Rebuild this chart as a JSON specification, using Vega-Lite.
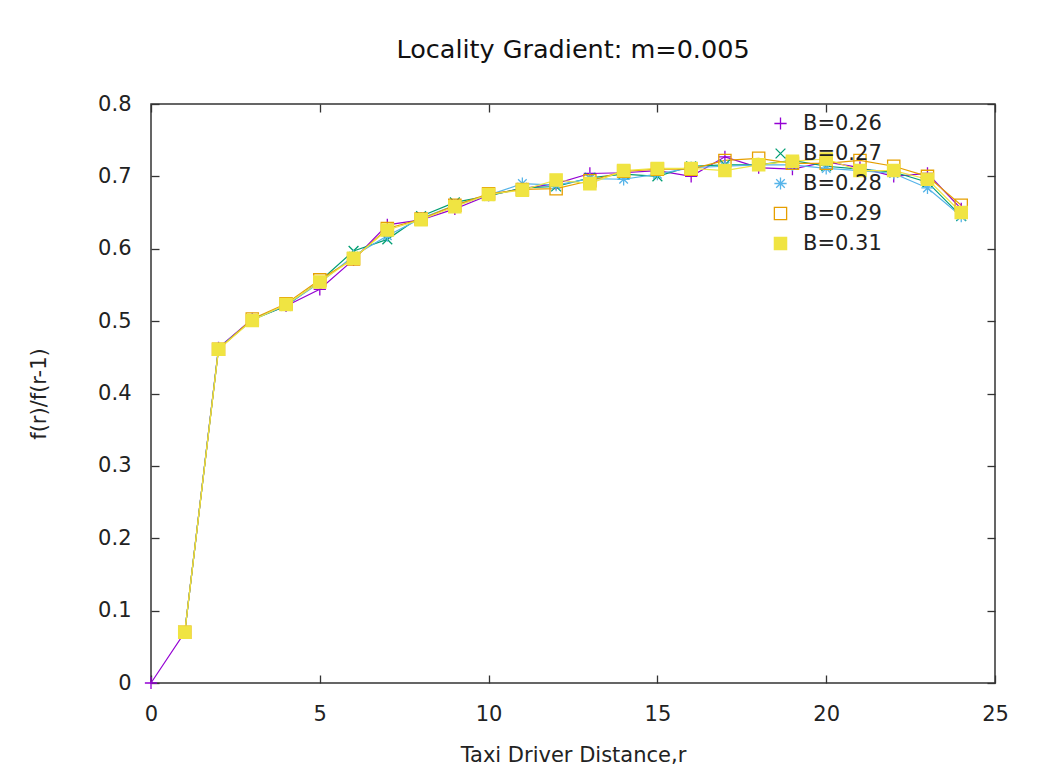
{
  "$schema": "https://vega.github.io/schema/vega-lite/v6.json",
  "autosize": "none",
  "width": 844,
  "height": 579,
  "padding": {"left": 151, "top": 104, "right": 48, "bottom": 94},
  "background": "white",
  "title": {"text": "Locality Gradient: m=0.005", "fontSize": 25.5, "font": "DejaVu Sans", "fontWeight": "normal", "color": "#111", "offset": 30, "anchor": "middle"},
  "config": {
    "view": {"stroke": "#333", "strokeWidth": 1.5},
    "axis": {"labelFont": "DejaVu Sans", "labelFontSize": 21, "labelColor": "#222", "titleFont": "DejaVu Sans", "titleFontSize": 21, "titleFontWeight": "normal", "titleColor": "#222", "grid": false, "domain": false, "tickColor": "#333", "tickWidth": 1.3, "tickSize": -8, "labelFlush": false},
    "legend": {"labelFont": "DejaVu Sans", "labelFontSize": 21, "labelColor": "#222"}
  },
  "data": {"values": [
    {"B": "B=0.26", "r": 0, "v": 0.0},
    {"B": "B=0.26", "r": 1, "v": 0.07},
    {"B": "B=0.26", "r": 2, "v": 0.463},
    {"B": "B=0.26", "r": 3, "v": 0.503},
    {"B": "B=0.26", "r": 4, "v": 0.521},
    {"B": "B=0.26", "r": 5, "v": 0.544},
    {"B": "B=0.26", "r": 6, "v": 0.585},
    {"B": "B=0.26", "r": 7, "v": 0.633},
    {"B": "B=0.26", "r": 8, "v": 0.64},
    {"B": "B=0.26", "r": 9, "v": 0.655},
    {"B": "B=0.26", "r": 10, "v": 0.674},
    {"B": "B=0.26", "r": 11, "v": 0.683},
    {"B": "B=0.26", "r": 12, "v": 0.69},
    {"B": "B=0.26", "r": 13, "v": 0.704},
    {"B": "B=0.26", "r": 14, "v": 0.705},
    {"B": "B=0.26", "r": 15, "v": 0.708},
    {"B": "B=0.26", "r": 16, "v": 0.70},
    {"B": "B=0.26", "r": 17, "v": 0.727},
    {"B": "B=0.26", "r": 18, "v": 0.712},
    {"B": "B=0.26", "r": 19, "v": 0.71},
    {"B": "B=0.26", "r": 20, "v": 0.72},
    {"B": "B=0.26", "r": 21, "v": 0.712},
    {"B": "B=0.26", "r": 22, "v": 0.70},
    {"B": "B=0.26", "r": 23, "v": 0.704},
    {"B": "B=0.26", "r": 24, "v": 0.655},
    {"B": "B=0.27", "r": 1, "v": 0.07},
    {"B": "B=0.27", "r": 2, "v": 0.462},
    {"B": "B=0.27", "r": 3, "v": 0.502},
    {"B": "B=0.27", "r": 4, "v": 0.521},
    {"B": "B=0.27", "r": 5, "v": 0.555},
    {"B": "B=0.27", "r": 6, "v": 0.597},
    {"B": "B=0.27", "r": 7, "v": 0.613},
    {"B": "B=0.27", "r": 8, "v": 0.645},
    {"B": "B=0.27", "r": 9, "v": 0.664},
    {"B": "B=0.27", "r": 10, "v": 0.673},
    {"B": "B=0.27", "r": 11, "v": 0.684},
    {"B": "B=0.27", "r": 12, "v": 0.686},
    {"B": "B=0.27", "r": 13, "v": 0.698},
    {"B": "B=0.27", "r": 14, "v": 0.703},
    {"B": "B=0.27", "r": 15, "v": 0.700},
    {"B": "B=0.27", "r": 16, "v": 0.714},
    {"B": "B=0.27", "r": 17, "v": 0.716},
    {"B": "B=0.27", "r": 18, "v": 0.716},
    {"B": "B=0.27", "r": 19, "v": 0.722},
    {"B": "B=0.27", "r": 20, "v": 0.714},
    {"B": "B=0.27", "r": 21, "v": 0.710},
    {"B": "B=0.27", "r": 22, "v": 0.706},
    {"B": "B=0.27", "r": 23, "v": 0.692},
    {"B": "B=0.27", "r": 24, "v": 0.645},
    {"B": "B=0.28", "r": 1, "v": 0.07},
    {"B": "B=0.28", "r": 2, "v": 0.462},
    {"B": "B=0.28", "r": 3, "v": 0.502},
    {"B": "B=0.28", "r": 4, "v": 0.522},
    {"B": "B=0.28", "r": 5, "v": 0.553},
    {"B": "B=0.28", "r": 6, "v": 0.590},
    {"B": "B=0.28", "r": 7, "v": 0.618},
    {"B": "B=0.28", "r": 8, "v": 0.642},
    {"B": "B=0.28", "r": 9, "v": 0.660},
    {"B": "B=0.28", "r": 10, "v": 0.674},
    {"B": "B=0.28", "r": 11, "v": 0.690},
    {"B": "B=0.28", "r": 12, "v": 0.688},
    {"B": "B=0.28", "r": 13, "v": 0.697},
    {"B": "B=0.28", "r": 14, "v": 0.696},
    {"B": "B=0.28", "r": 15, "v": 0.703},
    {"B": "B=0.28", "r": 16, "v": 0.712},
    {"B": "B=0.28", "r": 17, "v": 0.714},
    {"B": "B=0.28", "r": 18, "v": 0.716},
    {"B": "B=0.28", "r": 19, "v": 0.716},
    {"B": "B=0.28", "r": 20, "v": 0.711},
    {"B": "B=0.28", "r": 21, "v": 0.708},
    {"B": "B=0.28", "r": 22, "v": 0.704},
    {"B": "B=0.28", "r": 23, "v": 0.684},
    {"B": "B=0.28", "r": 24, "v": 0.645},
    {"B": "B=0.29", "r": 1, "v": 0.07},
    {"B": "B=0.29", "r": 2, "v": 0.461},
    {"B": "B=0.29", "r": 3, "v": 0.503},
    {"B": "B=0.29", "r": 4, "v": 0.524},
    {"B": "B=0.29", "r": 5, "v": 0.557},
    {"B": "B=0.29", "r": 6, "v": 0.586},
    {"B": "B=0.29", "r": 7, "v": 0.628},
    {"B": "B=0.29", "r": 8, "v": 0.641},
    {"B": "B=0.29", "r": 9, "v": 0.660},
    {"B": "B=0.29", "r": 10, "v": 0.676},
    {"B": "B=0.29", "r": 11, "v": 0.682},
    {"B": "B=0.29", "r": 12, "v": 0.683},
    {"B": "B=0.29", "r": 13, "v": 0.694},
    {"B": "B=0.29", "r": 14, "v": 0.707},
    {"B": "B=0.29", "r": 15, "v": 0.710},
    {"B": "B=0.29", "r": 16, "v": 0.710},
    {"B": "B=0.29", "r": 17, "v": 0.722},
    {"B": "B=0.29", "r": 18, "v": 0.725},
    {"B": "B=0.29", "r": 19, "v": 0.718},
    {"B": "B=0.29", "r": 20, "v": 0.718},
    {"B": "B=0.29", "r": 21, "v": 0.722},
    {"B": "B=0.29", "r": 22, "v": 0.714},
    {"B": "B=0.29", "r": 23, "v": 0.700},
    {"B": "B=0.29", "r": 24, "v": 0.660},
    {"B": "B=0.31", "r": 1, "v": 0.07},
    {"B": "B=0.31", "r": 2, "v": 0.461},
    {"B": "B=0.31", "r": 3, "v": 0.501},
    {"B": "B=0.31", "r": 4, "v": 0.523},
    {"B": "B=0.31", "r": 5, "v": 0.554},
    {"B": "B=0.31", "r": 6, "v": 0.587},
    {"B": "B=0.31", "r": 7, "v": 0.626},
    {"B": "B=0.31", "r": 8, "v": 0.640},
    {"B": "B=0.31", "r": 9, "v": 0.658},
    {"B": "B=0.31", "r": 10, "v": 0.675},
    {"B": "B=0.31", "r": 11, "v": 0.681},
    {"B": "B=0.31", "r": 12, "v": 0.695},
    {"B": "B=0.31", "r": 13, "v": 0.690},
    {"B": "B=0.31", "r": 14, "v": 0.708},
    {"B": "B=0.31", "r": 15, "v": 0.711},
    {"B": "B=0.31", "r": 16, "v": 0.711},
    {"B": "B=0.31", "r": 17, "v": 0.708},
    {"B": "B=0.31", "r": 18, "v": 0.716},
    {"B": "B=0.31", "r": 19, "v": 0.721},
    {"B": "B=0.31", "r": 20, "v": 0.724},
    {"B": "B=0.31", "r": 21, "v": 0.708},
    {"B": "B=0.31", "r": 22, "v": 0.708},
    {"B": "B=0.31", "r": 23, "v": 0.696},
    {"B": "B=0.31", "r": 24, "v": 0.650}
  ]},
  "resolve": {"axis": {"x": "independent", "y": "independent"}},
  "layer": [
    {
      "mark": {"type": "line", "strokeWidth": 1.2, "clip": false},
      "encoding": {
        "x": {"field": "r", "type": "quantitative", "scale": {"domain": [0, 25], "nice": false},
              "axis": {"orient": "bottom", "values": [0, 5, 10, 15, 20, 25], "title": "Taxi Driver Distance,r", "labelPadding": 28, "titlePadding": 20}},
        "y": {"field": "v", "type": "quantitative", "scale": {"domain": [0, 0.8], "nice": false, "zero": false},
              "axis": {"orient": "left", "values": [0, 0.1, 0.2, 0.3, 0.4, 0.5, 0.6, 0.7, 0.8], "format": "~g", "title": "f(r)/f(r-1)", "labelPadding": 28, "titlePadding": 48}},
        "stroke": {"field": "B", "type": "nominal",
                   "scale": {"domain": ["B=0.26", "B=0.27", "B=0.28", "B=0.29", "B=0.31"], "range": ["#9400d3", "#009e73", "#56b4e9", "#e69f00", "#f0e442"]},
                   "legend": {"title": null, "orient": "none", "legendX": 619, "legendY": 9, "rowPadding": 8, "symbolStrokeWidth": 1.3, "symbolSize": 150, "labelOffset": 12}},
        "detail": {"field": "B"}
      }
    },
    {
      "mark": {"type": "point", "strokeWidth": 1.3, "size": 150, "opacity": 1, "clip": false},
      "encoding": {
        "x": {"field": "r", "type": "quantitative", "axis": {"orient": "top", "values": [0, 5, 10, 15, 20, 25], "labels": false, "title": null}},
        "y": {"field": "v", "type": "quantitative", "axis": {"orient": "right", "values": [0, 0.1, 0.2, 0.3, 0.4, 0.5, 0.6, 0.7, 0.8], "labels": false, "title": null}},
        "stroke": {"field": "B", "type": "nominal", "legend": {"title": null, "orient": "none", "legendX": 619, "legendY": 9, "rowPadding": 8, "symbolStrokeWidth": 1.3, "symbolSize": 150, "labelOffset": 12}},
        "fill": {"field": "B", "type": "nominal",
                 "scale": {"domain": ["B=0.26", "B=0.27", "B=0.28", "B=0.29", "B=0.31"], "range": ["transparent", "transparent", "transparent", "transparent", "#f0e442"]},
                 "legend": {"title": null, "orient": "none", "legendX": 619, "legendY": 9, "rowPadding": 8, "symbolStrokeWidth": 1.3, "symbolSize": 150, "labelOffset": 12}},
        "shape": {"field": "B", "type": "nominal",
                  "scale": {"domain": ["B=0.26", "B=0.27", "B=0.28", "B=0.29", "B=0.31"],
                            "range": ["M-1,0L1,0M0,-1L0,1", "M-0.8,-0.8L0.8,0.8M-0.8,0.8L0.8,-0.8", "M-1,0L1,0M0,-1L0,1M-0.7,-0.7L0.7,0.7M-0.7,0.7L0.7,-0.7", "square", "square"]},
                  "legend": {"title": null, "orient": "none", "legendX": 619, "legendY": 9, "rowPadding": 8, "symbolStrokeWidth": 1.3, "symbolSize": 150, "labelOffset": 12}}
      }
    }
  ]
}
